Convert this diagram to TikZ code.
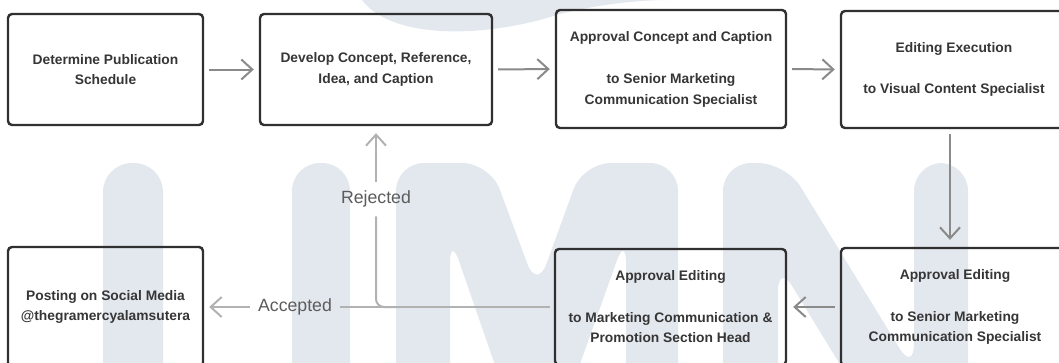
\documentclass[tikz,border=0pt]{standalone}
\usepackage{fontspec}
\setmainfont{Liberation Sans}
\usetikzlibrary{arrows.meta}

\definecolor{boxline}{HTML}{303030}
\definecolor{boxtext}{HTML}{363636}
\definecolor{flowgray}{HTML}{8A8A8A}
\definecolor{branchgray}{HTML}{B2B2B2}
\definecolor{labeltext}{HTML}{5C5C5C}
\definecolor{umnmark}{HTML}{E3E8EE}

\tikzset{
  stepbox/.style={draw=boxline, line width=2.4pt, rounded corners=4pt, align=center,
    text=boxtext, font=\bfseries\fontsize{13.8}{20.5}\selectfont, inner sep=0pt},
  barb/.style={-{Straight Barb[length=11pt, width=20pt]}},
  flow/.style={draw=flowgray, line width=2pt, barb, shorten <=5pt, shorten >=5pt},
  branch/.style={draw=branchgray, line width=2pt},
  branchlabel/.style={text=labeltext, font=\fontsize{17.7}{21}\selectfont,
    inner xsep=8pt, inner ysep=9pt},
}

\begin{document}
\begin{tikzpicture}[x=1pt, y=-1pt]

\useasboundingbox (0,0) rectangle (1059,362);
\clip (0,0) rectangle (1059,362);
\fill[white] (0,0) rectangle (1059,362);

\fill[umnmark] (362,0) .. controls (390,38) and (480,40) .. (560,14)
  .. controls (600,4) and (640,0) .. (668,0) -- cycle;
\fill[umnmark, rounded corners=29pt] (103,420) -- (103,163) -- (163,163) -- (163,420) -- cycle;
\fill[umnmark, rounded corners=28pt] (292,420) -- (292,163) -- (350,163) -- (350,420) -- cycle;
\fill[umnmark, rounded corners=28pt] (396,420) -- (396,163) -- (490,163) -- (537,290)
  -- (583,163) -- (678,163) -- (678,420) -- (626,420) -- (626,235) -- (560,420)
  -- (514,420) -- (450,235) -- (450,420) -- cycle;
\fill[umnmark, rounded corners=28pt] (723,420) -- (723,163) -- (786,163) -- (914,372)
  -- (914,163) -- (968,163) -- (968,420) -- (874,420) -- (778,263) -- (778,420) -- cycle;

\node[stepbox, minimum width=195pt, minimum height=111pt] (schedule) at (105.5,69.5)
  {Determine Publication\\Schedule};
\node[stepbox, minimum width=232pt, minimum height=111pt] (concept) at (376,69.5)
  {Develop Concept, Reference,\\Idea, and Caption};
\node[stepbox, minimum width=230pt, minimum height=118pt] (approveconcept) at (671,69)
  {Approval Concept and Caption\\[22pt]to Senior Marketing\\Communication Specialist};
\node[stepbox, minimum width=226pt, minimum height=117pt] (editing) at (954,69.5)
  {Editing Execution\\[21pt]to Visual Content Specialist};

\node[stepbox, minimum width=228pt, minimum height=118pt] (approvesenior) at (955,307)
  {Approval Editing\\[21pt]to Senior Marketing\\Communication Specialist};
\node[stepbox, minimum width=231pt, minimum height=116pt] (approvehead) at (670.5,307)
  {Approval Editing\\[21pt]to Marketing Communication \&\\Promotion Section Head};
\node[stepbox, minimum width=195pt, minimum height=120pt] (posting) at (105.5,307)
  {Posting on Social Media\\@thegramercyalamsutera};

\node[branchlabel] (accepted) at (295,307) {Accepted};
\node[branchlabel] (rejected) at (376,199) {Rejected};
\coordinate (fork) at (400,307);

\draw[flow] (schedule.east) -- (concept.west);
\draw[flow] (concept.east) -- (approveconcept.west);
\draw[flow] (approveconcept.east) -- (editing.west);
\draw[flow, shorten >=7pt] (editing.south -| 950,0) -- (approvesenior.north -| 950,0);
\draw[flow, shorten >=6pt] (approvesenior.west) -- (approvehead.east);

\draw[branch, shorten <=4pt] (approvehead.west) -- (accepted.east);
\draw[branch, barb, shorten >=5pt] (accepted.west) -- (posting.east);
\draw[branch, rounded corners=8pt] (fork) -| (rejected.south);
\draw[branch, barb, shorten >=7pt] (rejected.north) -- (concept.south);

\end{tikzpicture}
\end{document}
